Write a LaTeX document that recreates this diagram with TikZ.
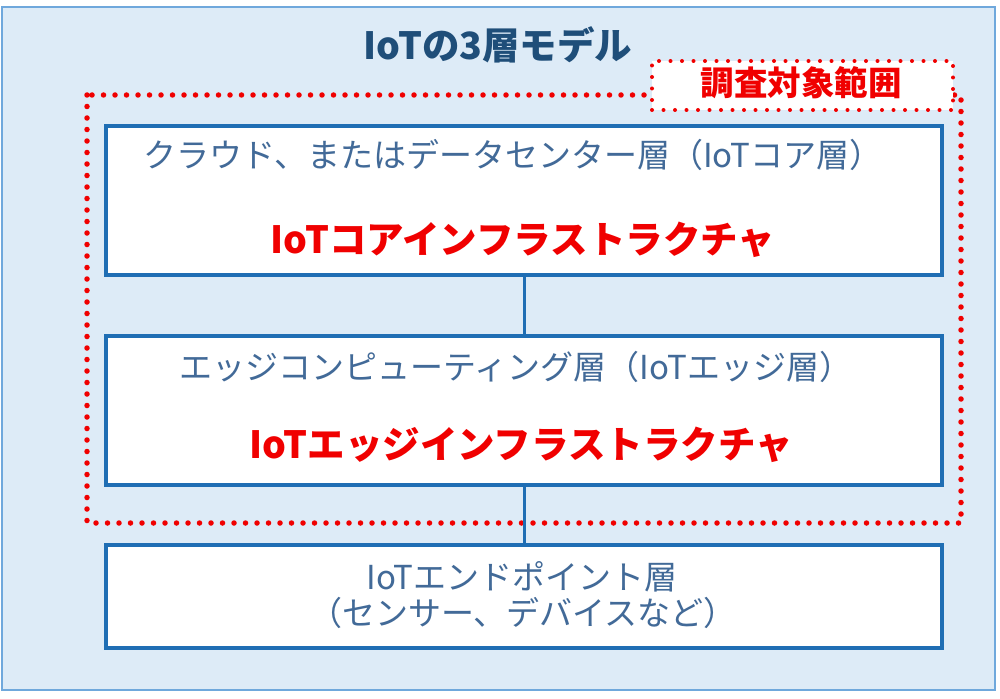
\documentclass[tikz,border=0pt]{standalone}
\usepackage{fontspec}
\newfontfamily\jp{Noto Sans CJK JP}
\definecolor{bgblue}{HTML}{DDEBF7}
\definecolor{outerblue}{HTML}{6FA8DC}
\definecolor{boxblue}{HTML}{1F6EB4}
\definecolor{titleblue}{HTML}{1F4E79}
\definecolor{grayblue}{HTML}{426A98}
\definecolor{redtxt}{HTML}{F00000}
\tikzset{
  layerbox/.style={draw=boxblue, line width=4pt, fill=white, minimum width=836pt, inner sep=0pt, outer sep=0pt},
  reddots/.style={draw=redtxt, line width=5.5pt, line cap=round, dash pattern=on 0pt off 11.5pt},
  normtxt/.style={font=\jp\fontsize{33}{40}\selectfont, text=grayblue, inner sep=0pt, align=center},
  redbold/.style={font=\jp\bfseries\fontsize{37.5}{44}\selectfont, text=redtxt, inner sep=0pt},
  conn/.style={draw=boxblue, line width=3pt}
}
\begin{document}
\begin{tikzpicture}[x=1pt,y=-1pt]
\useasboundingbox (0,0) rectangle (1000,698);
\draw[fill=bgblue, draw=outerblue, line width=2pt] (2,7) rectangle (995,690);
\node[font=\jp\bfseries\fontsize{37.5}{42}\selectfont, text=titleblue, inner sep=0pt] (title) at (498,45) {IoTの3層モデル};
% scope frame
\draw[reddots] (87,95) rectangle (961,523);
% boxes
\node[layerbox, minimum height=149pt] (cloud) at (524,200.5) {};
\node[layerbox, minimum height=149pt] (edge) at (524,410.5) {};
\node[layerbox, minimum height=103pt] (endp) at (524,596.5) {};
\draw[conn] (cloud.south) -- (edge.north);
\draw[conn] (edge.south) -- (endp.north);
% label box
\node[reddots, line width=4pt, fill=white, minimum width=301pt, minimum height=49pt, inner sep=0pt] (lbl) at (802.5,85.5) {};
\node[font=\jp\bfseries\fontsize{33.5}{38}\selectfont, text=redtxt, inner sep=0pt] (lbltxt) at (801,83) {調査対象範囲};
% texts
\node[normtxt] (t1) at (513,155) {クラウド、またはデータセンター層（IoTコア層）};
\node[redbold] (r1) at (523,240) {IoTコアインフラストラクチャ};
\node[normtxt] (t2) at (516,367) {エッジコンピューティング層（IoTエッジ層）};
\node[redbold] (r2) at (521,445) {IoTエッジインフラストラクチャ};
\node[normtxt] (t3a) at (522,577) {IoTエンドポイント層};
\node[normtxt] (t3b) at (523,613) {（センサー、デバイスなど）};
\end{tikzpicture}
\end{document}
